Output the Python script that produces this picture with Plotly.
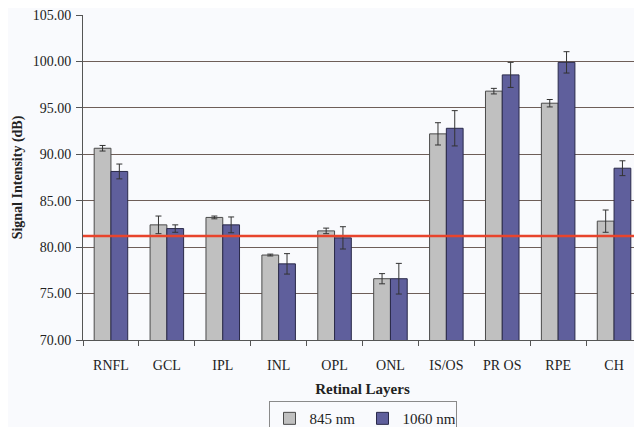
import plotly.graph_objects as go

layers = ["RNFL", "GCL", "IPL", "INL", "OPL", "ONL", "IS/OS", "PR OS", "RPE", "CH"]
nm845 = [90.65, 82.4, 83.2, 79.15, 81.75, 76.6, 92.2, 96.8, 95.5, 82.8]
nm845_err = [0.3, 0.95, 0.15, 0.1, 0.3, 0.55, 1.2, 0.3, 0.4, 1.2]
nm1060 = [88.15, 82.0, 82.4, 78.2, 81.0, 76.6, 92.8, 98.55, 99.9, 88.5]
nm1060_err = [0.8, 0.4, 0.85, 1.1, 1.2, 1.65, 1.9, 1.35, 1.15, 0.8]
threshold = 81.2
y_ticks = [70, 75, 80, 85, 90, 95, 100, 105]

serif = "Liberation Serif, Times New Roman, serif"
bg = "#f9fafd"

fig = go.Figure()
fig.add_trace(go.Bar(
    x=layers, y=nm845, name="845 nm",
    marker=dict(color="#c0c0c0", line=dict(color="#4a4a4a", width=1)),
    error_y=dict(type="data", array=nm845_err, color="#333333", thickness=1, width=3),
))
fig.add_trace(go.Bar(
    x=layers, y=nm1060, name="1060 nm",
    marker=dict(color="#5f5f9c", line=dict(color="#2a2a4a", width=1)),
    error_y=dict(type="data", array=nm1060_err, color="#333333", thickness=1, width=3),
))

fig.add_shape(type="line", xref="paper", x0=0, x1=1, yref="y", y0=threshold, y1=threshold,
              line=dict(color="#e8442c", width=2.5), layer="above")

fig.update_layout(
    width=634, height=419,
    margin=dict(l=75, r=0, t=7, b=87, autoexpand=False),
    paper_bgcolor=bg, plot_bgcolor=bg,
    barmode="group", bargap=0.4, bargroupgap=0,
    font=dict(family=serif, size=14, color="#222222"),
    showlegend=True,
    legend=dict(orientation="h", x=0.5, xanchor="center", y=-0.188, yanchor="top",
                bordercolor="#8a8a8a", borderwidth=1, bgcolor=bg,
                font=dict(family=serif, size=15, color="#222222"),
                itemwidth=30, tracegroupgap=0, entrywidth=48,
                itemclick=False),
    xaxis=dict(
        title=dict(text="<b>Retinal Layers</b>", font=dict(family=serif, size=15), standoff=11),
        showline=True, linecolor="#555555", linewidth=1,
        ticks="outside", ticklen=5, tickcolor="#555555", tickson="boundaries",
        ticklabelstandoff=12,
        showgrid=False, tickfont=dict(family=serif, size=14), automargin=False,
    ),
    yaxis=dict(
        title=dict(text="<b>Signal Intensity (dB)</b>", font=dict(family=serif, size=14), standoff=6),
        range=[70, 105], tickvals=y_ticks, tickformat=".2f",
        showline=True, linecolor="#555555", linewidth=1,
        ticks="outside", ticklen=6, tickcolor="#555555",
        ticklabelstandoff=2, ticklabeloverflow="allow",
        showgrid=True, gridcolor="#6e5e58", gridwidth=1,
        zeroline=False, tickfont=dict(family=serif, size=14), automargin=False,
    ),
)

fig.write_html("out.html")
